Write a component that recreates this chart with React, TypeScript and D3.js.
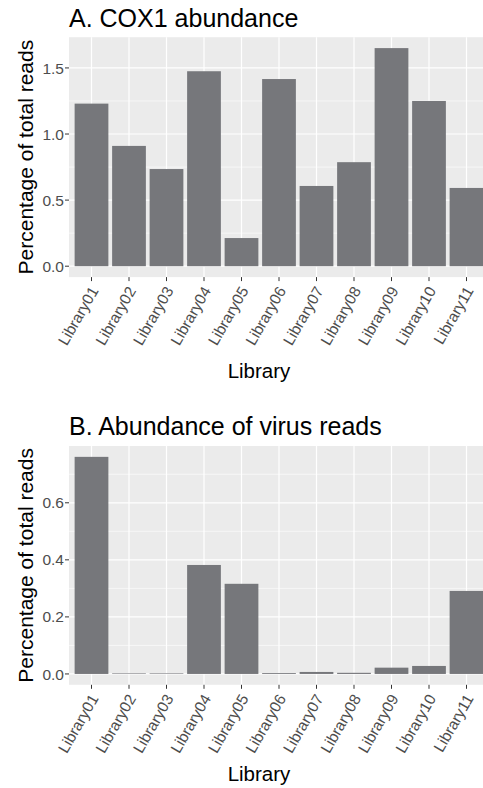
import React from 'react';
import * as d3 from 'd3';

const libraries = ['Library01', 'Library02', 'Library03', 'Library04', 'Library05', 'Library06', 'Library07', 'Library08', 'Library09', 'Library10', 'Library11'];
const cox1Values = [1.23, 0.91, 0.735, 1.475, 0.213, 1.416, 0.607, 0.787, 1.65, 1.25, 0.592];
const virusValues = [0.761, 0.002, 0.002, 0.382, 0.316, 0.003, 0.007, 0.004, 0.022, 0.028, 0.291];
const cox1Ticks = [0, 0.5, 1.0, 1.5];
const virusTicks = [0, 0.2, 0.4, 0.6];
const panelTitles = ['A. COX1 abundance', 'B. Abundance of virus reads'];
const yTitle = 'Percentage of total reads';
const xTitle = 'Library';

const FONT = '"Liberation Sans", Arial, Helvetica, sans-serif';
const LEFT = 69;
const RIGHT = 489;
const BAR = '#76777b';
const BG = '#ebebeb';

type PanelProps = {
  title: string;
  values: number[];
  ticks: number[];
  top: number;
  bottom: number;
  titleY: number;
  xTitleY: number;
};

function Panel({ title, values, ticks, top, bottom, titleY, xTitleY }: PanelProps) {
  const x = d3.scaleBand<string>().domain(libraries).range([LEFT, RIGHT]).paddingInner(0.1).paddingOuter(0.15);
  const ymax = d3.max(values) as number;
  const y = d3.scaleLinear().domain([-0.05 * ymax, 1.05 * ymax]).range([bottom, top]);
  const step = ticks[1] - ticks[0];
  const minor: number[] = [];
  for (let v = ticks[0] - step / 2; v <= 1.05 * ymax; v += step) {
    if (v >= -0.05 * ymax) minor.push(v);
  }
  const centers = libraries.map((l) => (x(l) as number) + x.bandwidth() / 2);
  return (
    <g>
      <text x={LEFT} y={titleY} fontSize={25} fontFamily={FONT} fill="#000">{title}</text>
      <rect x={LEFT} y={top} width={RIGHT - LEFT} height={bottom - top} fill={BG} />
      {minor.map((v, i) => (
        <line key={'mn' + i} x1={LEFT} x2={RIGHT} y1={y(v)} y2={y(v)} stroke="#fff" strokeWidth={0.6} />
      ))}
      {ticks.map((v, i) => (
        <line key={'mj' + i} x1={LEFT} x2={RIGHT} y1={y(v)} y2={y(v)} stroke="#fff" strokeWidth={1.2} />
      ))}
      {centers.map((c, i) => (
        <line key={'vx' + i} x1={c} x2={c} y1={top} y2={bottom} stroke="#fff" strokeWidth={1.2} />
      ))}
      {values.map((v, i) => (
        <rect key={'b' + i} x={x(libraries[i])} width={x.bandwidth()} y={y(Math.max(v, 0))} height={Math.abs(y(v) - y(0))} fill={BAR} />
      ))}
      {ticks.map((v, i) => (
        <g key={'yt' + i}>
          <line x1={LEFT - 4} x2={LEFT} y1={y(v)} y2={y(v)} stroke="#333" strokeWidth={1} />
          <text x={LEFT - 5} y={y(v)} dy="0.36em" textAnchor="end" fontSize={15.5} fontFamily={FONT} fill="#4d4d4d">
            {d3.format('.1f')(v)}
          </text>
        </g>
      ))}
      {centers.map((c, i) => {
        const ax = c + 7.5;
        const ay = bottom + 13.5;
        return (
          <g key={'xt' + i}>
            <line x1={c} x2={c} y1={bottom} y2={bottom + 4} stroke="#333" strokeWidth={1} />
            <text x={ax} y={ay} textAnchor="end" fontSize={15.5} fontFamily={FONT} fill="#4d4d4d" transform={`rotate(-60, ${ax}, ${ay})`}>
              {libraries[i]}
            </text>
          </g>
        );
      })}
      <text x={259} y={xTitleY} textAnchor="middle" fontSize={20.5} fontFamily={FONT} fill="#000">{xTitle}</text>
      <text x={33} y={(top + bottom) / 2} textAnchor="middle" fontSize={21} fontFamily={FONT} fill="#000" transform={`rotate(-90, 33, ${(top + bottom) / 2})`}>
        {yTitle}
      </text>
    </g>
  );
}

export default function App() {
  return (
    <svg width={483} height={788} style={{ position: 'absolute', left: 0, top: 0, background: '#fff' }}>
      <rect x={0} y={0} width={483} height={788} fill="#fff" />
      <Panel title={panelTitles[0]} values={cox1Values} ticks={cox1Ticks} top={37.2} bottom={277.1} titleY={27} xTitleY={377.5} />
      <Panel title={panelTitles[1]} values={virusValues} ticks={virusTicks} top={446} bottom={684.8} titleY={435} xTitleY={780.7} />
    </svg>
  );
}
